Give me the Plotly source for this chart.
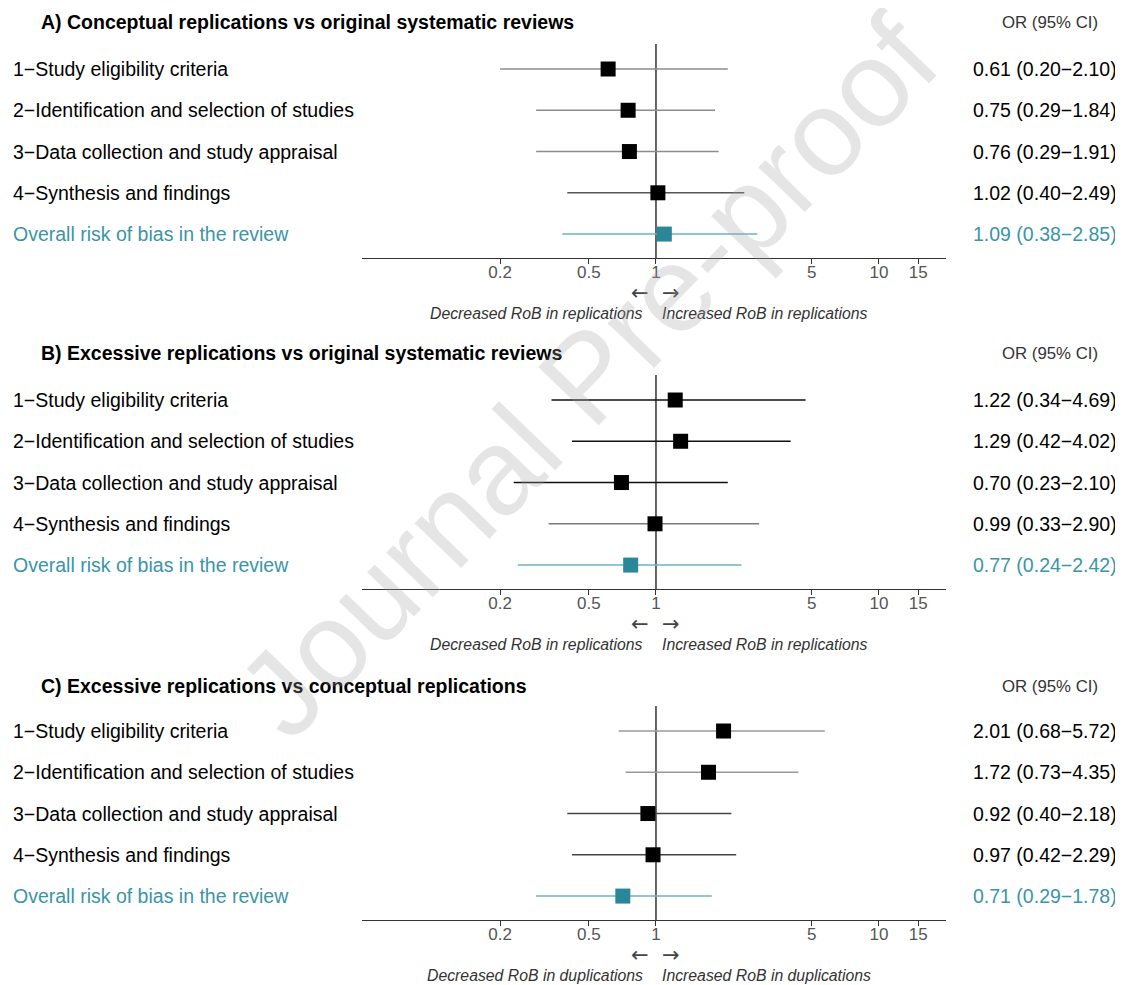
import plotly.graph_objects as go
import math

# page has an 8px body margin; figure is sized to fill the rest of the window
OFF = 8
W, H = 1123 - OFF, 985 - OFF

# ---------------- data ----------------
row_labels = ["1−Study eligibility criteria",
              "2−Identification and selection of studies",
              "3−Data collection and study appraisal",
              "4−Synthesis and findings",
              "Overall risk of bias in the review"]

titles = ["A) Conceptual replications vs original systematic reviews",
          "B) Excessive replications vs original systematic reviews",
          "C) Excessive replications vs conceptual replications"]

or_A = [0.61, 0.75, 0.76, 1.02, 1.09]
lo_A = [0.20, 0.29, 0.29, 0.40, 0.38]
hi_A = [2.10, 1.84, 1.91, 2.49, 2.85]

or_B = [1.22, 1.29, 0.70, 0.99, 0.77]
lo_B = [0.34, 0.42, 0.23, 0.33, 0.24]
hi_B = [4.69, 4.02, 2.10, 2.90, 2.42]

or_C = [2.01, 1.72, 0.92, 0.97, 0.71]
lo_C = [0.68, 0.73, 0.40, 0.42, 0.29]
hi_C = [5.72, 4.35, 2.18, 2.29, 1.78]

tick_vals = [0.2, 0.5, 1, 5, 10, 15]
tick_text = ["0.2", "0.5", "1", "5", "10", "15"]

left_notes = ["Decreased RoB in replications", "Decreased RoB in replications", "Decreased RoB in duplications"]
right_notes = ["Increased RoB in replications", "Increased RoB in replications", "Increased RoB in duplications"]

# ---------------- styles ----------------
TEAL_TXT = "#3a95a7"
TEAL_SQ = "#2a8799"
TEAL_LN = "#6cb2c1"
line_colors = [
    ["#8c8c8c", "#8c8c8c", "#8c8c8c", "#555555", TEAL_LN],
    ["#111111", "#111111", "#111111", "#7a7a7a", TEAL_LN],
    ["#999999", "#999999", "#444444", "#444444", TEAL_LN],
]
FONT = "Liberation Sans, Arial, sans-serif"

panels = [(or_A, lo_A, hi_A), (or_B, lo_B, hi_B), (or_C, lo_C, hi_C)]
axis_px = [258, 589, 920]      # pixel y of the x-axis line (window coords)
top_px = [44, 375, 706]        # pixel y of top of plotting area
title_px = [22, 353, 686]

def py(p):
    return 1 - (p - OFF) / H

def px(p):
    return (p - OFF) / W

fig = go.Figure()
annotations = []
layout_axes = {}
x0_dom, x1_dom = px(362), px(946)
yrange = [4.58, -0.606]

for k, (orv, lov, hiv) in enumerate(panels):
    sfx = "" if k == 0 else str(k + 1)
    xa, ya = "x" + sfx, "y" + sfx
    n = len(orv)
    fig.add_trace(go.Scatter(x=[1, 1], y=[yrange[1], yrange[0]], mode="lines",
                             line=dict(color="black", width=1.2),
                             xaxis=xa, yaxis=ya, showlegend=False, hoverinfo="skip"))
    for i in range(n):
        fig.add_trace(go.Scatter(x=[lov[i], hiv[i]], y=[i, i], mode="lines",
                                 line=dict(color=line_colors[k][i], width=1.4),
                                 xaxis=xa, yaxis=ya, showlegend=False, hoverinfo="skip"))
    sq_colors = ["black"] * (n - 1) + [TEAL_SQ]
    fig.add_trace(go.Scatter(x=orv, y=list(range(n)), mode="markers",
                             marker=dict(symbol="square", size=15, color=sq_colors,
                                         line=dict(width=0)),
                             xaxis=xa, yaxis=ya, showlegend=False))

    layout_axes["xaxis" + sfx] = dict(
        type="log", domain=[x0_dom, x1_dom], anchor=ya,
        range=[math.log10(0.048), math.log10(20)],
        tickvals=tick_vals, ticktext=tick_text, ticks="outside", ticklen=5,
        ticklabelstandoff=-6,
        tickcolor="#333333", tickwidth=1, showline=True, linecolor="#333333", linewidth=1,
        showgrid=False, zeroline=False,
        tickfont=dict(family=FONT, size=17, color="#555555"), fixedrange=True)
    layout_axes["yaxis" + sfx] = dict(
        domain=[py(axis_px[k]), py(top_px[k])], anchor=xa, range=yrange,
        showticklabels=False, showgrid=False, zeroline=False, showline=False, ticks="")

    annotations.append(dict(text="<b>" + titles[k] + "</b>", x=px(39), y=py(title_px[k]),
                            xref="paper", yref="paper", xanchor="left", yanchor="middle",
                            showarrow=False, font=dict(family=FONT, size=19.5, color="black")))
    annotations.append(dict(text="OR (95% CI)", x=px(1050), y=py(title_px[k]),
                            xref="paper", yref="paper", xanchor="center", yanchor="middle",
                            showarrow=False, font=dict(family=FONT, size=16.8, color="#333333")))
    for i in range(n):
        col = TEAL_TXT if i == n - 1 else "black"
        annotations.append(dict(text=row_labels[i], x=px(11), y=i, xref="paper", yref=ya,
                                xanchor="left", yanchor="middle", showarrow=False,
                                font=dict(family=FONT, size=19.5, color=col)))
        annotations.append(dict(text=f"{orv[i]:.2f} ({lov[i]:.2f}−{hiv[i]:.2f})",
                                x=px(1045), y=i, xref="paper", yref=ya,
                                xanchor="center", yanchor="middle", showarrow=False,
                                font=dict(family=FONT, size=19.5, color=col)))
    annotations.append(dict(text="←  →", x=0, y=py(axis_px[k] + 35), xref=xa, yref="paper",
                            xanchor="center", yanchor="middle", showarrow=False,
                            font=dict(family="DejaVu Sans, sans-serif", size=21, color="#444444")))
    annotations.append(dict(text="<i>" + left_notes[k] + "</i>", x=0, xshift=-11,
                            y=py(axis_px[k] + 55), xref=xa, yref="paper",
                            xanchor="right", yanchor="middle", showarrow=False,
                            font=dict(family=FONT, size=15.8, color="#333333")))
    annotations.append(dict(text="<i>" + right_notes[k] + "</i>", x=0, xshift=4,
                            y=py(axis_px[k] + 55), xref=xa, yref="paper",
                            xanchor="left", yanchor="middle", showarrow=False,
                            font=dict(family=FONT, size=15.8, color="#333333")))

# watermark
annotations.append(dict(text="Journal Pre-proof", x=px(588), y=py(376), xref="paper", yref="paper",
                        xanchor="center", yanchor="middle", showarrow=False, textangle=-46,
                        font=dict(family=FONT, size=122, color="rgba(160,160,160,0.28)")))

fig.update_layout(width=W, height=H, margin=dict(l=0, r=0, t=0, b=0),
                  paper_bgcolor="white", plot_bgcolor="white",
                  annotations=annotations, showlegend=False, **layout_axes)

fig.write_html("out.html")
